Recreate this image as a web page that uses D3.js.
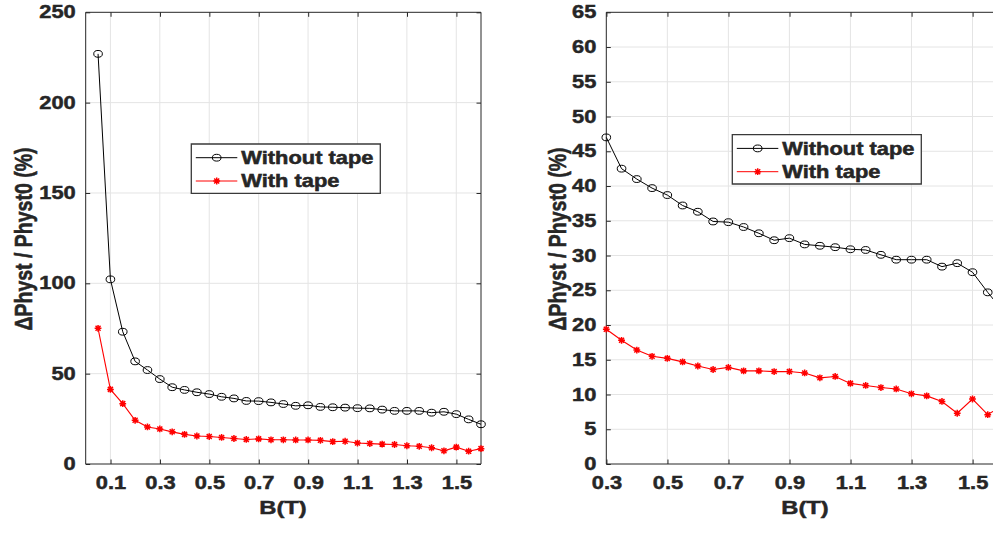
<!DOCTYPE html>
<html><head><meta charset="utf-8">
<script src="https://cdn.jsdelivr.net/npm/d3@7"></script>
<style>
html,body{margin:0;padding:0;background:#fff;}
svg{display:block;}
text{font-family:'Liberation Sans',Arial,Helvetica,sans-serif;font-weight:bold;fill:#262626;}
</style></head>
<body>
<svg id="chart" width="993" height="540"></svg>
<script>
// ---- data ----
const B = [0.05,0.10,0.15,0.20,0.25,0.30,0.35,0.40,0.45,0.50,0.55,0.60,0.65,0.70,0.75,0.80,
           0.85,0.90,0.95,1.00,1.05,1.10,1.15,1.20,1.25,1.30,1.35,1.40,1.45,1.50,1.55,1.60];
const withoutTape = [227,102.2,73.2,56.8,52.0,47.0,42.5,41.0,39.7,38.7,37.2,36.3,34.9,34.8,34.1,33.2,
                     32.2,32.5,31.6,31.4,31.2,30.9,30.8,30.1,29.4,29.4,29.4,28.4,28.9,27.6,24.7,22.0];
const withTape = [75.1,41.3,33.4,24.2,20.5,19.4,17.8,16.4,15.5,15.2,14.7,14.1,13.6,13.9,13.4,13.4,
                  13.3,13.3,13.1,12.4,12.6,11.6,11.3,11.0,10.8,10.1,9.8,9.0,7.3,9.35,7.1,8.5];
const seriesNames = ["Without tape","With tape"];
const leftXTicks = [0.1,0.3,0.5,0.7,0.9,1.1,1.3,1.5];
const leftYTicks = [0,50,100,150,200,250];
const rightXTicks = [0.3,0.5,0.7,0.9,1.1,1.3,1.5];
const rightYTicks = [0,5,10,15,20,25,30,35,40,45,50,55,60,65];
const xLabel = "B(T)";
const yLabel = "\u0394Physt / Physt0 (%)";

// ---- layout ----
const SX = 1.25; // horizontal stretch of the original figure
const svg = d3.select("#chart");
const root = svg.append("g").attr("transform", `scale(${SX},1)`);
const TOP = 12.3, BOT = 464;
const AX = "#262626", GRID = "#e4e4e4";
const TF = 17.5;

const pts = B.map((b,i)=>({b, w: withoutTape[i], t: withTape[i]}));

function asterisk(g, cx, cy){
  const a = 3.4, d = 2.5;
  g.append("path")
    .attr("d", `M${-a/SX},0L${a/SX},0M0,${-a}L0,${a}M${-d/SX},${-d}L${d/SX},${d}M${-d/SX},${d}L${d/SX},${-d}`)
    .attr("transform", `translate(${cx},${cy})`)
    .attr("stroke","#ff0000").attr("stroke-width",1.5).attr("fill","none")
    .attr("vector-effect","non-scaling-stroke");
}
function circ(g, cx, cy){
  g.append("ellipse").attr("cx",cx).attr("cy",cy).attr("rx",4.3/SX).attr("ry",3.4)
    .attr("fill","none").attr("stroke","#000").attr("stroke-width",1)
    .attr("vector-effect","non-scaling-stroke");
}
function heavy(sel, col){
  sel.attr("stroke",col).attr("stroke-width",0.45).attr("paint-order","stroke");
}

function panel(cfg){
  const g = root.append("g");
  const x = d3.scaleLinear().domain(cfg.xDomain).range([cfg.x0/SX, cfg.x1/SX]);
  const y = d3.scaleLinear().domain(cfg.yDomain).range([BOT, TOP]);

  // grid
  g.append("g").selectAll("line").data(cfg.xTicks.filter(v=>v>cfg.xDomain[0]+1e-9 && v<cfg.xDomain[1]-1e-9))
    .join("line").attr("x1",d=>x(d)).attr("x2",d=>x(d)).attr("y1",TOP).attr("y2",BOT)
    .attr("stroke",GRID).attr("stroke-width",1).attr("vector-effect","non-scaling-stroke");
  g.append("g").selectAll("line").data(cfg.yTicks.filter(v=>v>cfg.yDomain[0] && v<cfg.yDomain[1]))
    .join("line").attr("x1",x.range()[0]).attr("x2",x.range()[1]).attr("y1",d=>y(d)).attr("y2",d=>y(d))
    .attr("stroke",GRID).attr("stroke-width",1).attr("vector-effect","non-scaling-stroke");

  // axes
  const styleAxis = sel => {
    sel.select(".domain").remove();
    sel.selectAll(".tick line").attr("stroke",AX).attr("vector-effect","non-scaling-stroke");
    sel.selectAll("text").attr("font-size",TF).attr("fill",AX)
      .style("font-family","'Liberation Sans',Arial,sans-serif").style("font-weight","bold")
      .call(heavy, AX);
  };
  g.append("g").attr("transform",`translate(0,${BOT})`)
    .call(d3.axisBottom(x).tickValues(cfg.xTicks).tickSize(-4.5).tickPadding(13).tickFormat(d3.format(".1f")))
    .call(styleAxis);
  g.append("g").attr("transform",`translate(0,${TOP})`)
    .call(d3.axisTop(x).tickValues(cfg.xTicks).tickSize(-4.5).tickFormat(""))
    .call(styleAxis);
  g.append("g").attr("transform",`translate(${x.range()[0]},0)`)
    .call(d3.axisLeft(y).tickValues(cfg.yTicks).tickSize(-4.5/SX).tickPadding(8).tickFormat(d3.format("d")))
    .call(styleAxis);
  g.append("g").attr("transform",`translate(${x.range()[1]},0)`)
    .call(d3.axisRight(y).tickValues(cfg.yTicks).tickSize(-4.5/SX).tickFormat(""))
    .call(styleAxis);

  // box
  g.append("rect").attr("x",x.range()[0]).attr("y",TOP)
    .attr("width",x.range()[1]-x.range()[0]).attr("height",BOT-TOP)
    .attr("fill","none").attr("stroke",AX).attr("stroke-width",1)
    .attr("vector-effect","non-scaling-stroke");

  // data
  const data = pts.filter(p=>p.b>=cfg.xDomain[0]-1e-9);
  const lineW = d3.line().x(d=>x(d.b)).y(d=>y(d.w));
  const lineT = d3.line().x(d=>x(d.b)).y(d=>y(d.t));
  g.append("path").attr("d",lineW(data)).attr("fill","none").attr("stroke","#000")
    .attr("stroke-width",1).attr("vector-effect","non-scaling-stroke");
  g.append("path").attr("d",lineT(data)).attr("fill","none").attr("stroke","#ff0000")
    .attr("stroke-width",1.1).attr("vector-effect","non-scaling-stroke");
  const mk = g.append("g");
  data.forEach(d=>circ(mk, x(d.b), y(d.w)));
  data.forEach(d=>asterisk(mk, x(d.b), y(d.t)));

  // labels
  g.append("text").attr("x",cfg.xlabX/SX).attr("y",514).attr("text-anchor","middle")
    .attr("font-size",19).text(xLabel).call(heavy, AX);
  g.append("text").attr("transform",`translate(${cfg.ylabX/SX},239) rotate(-90)`)
    .attr("text-anchor","middle").attr("dy","0.36em").attr("font-size",19.5).text(yLabel).call(heavy, AX);

  // legend
  const L = cfg.legend;
  const lg = g.append("g");
  lg.append("rect").attr("x",L.x0/SX).attr("y",L.y0).attr("width",(L.x1-L.x0)/SX).attr("height",L.y1-L.y0)
    .attr("fill","#fff").attr("stroke","#3a3a3a").attr("stroke-width",1.3)
    .attr("vector-effect","non-scaling-stroke");
  const rows = [L.y0+13.7, L.y0+37];
  rows.forEach((ry,i)=>{
    lg.append("line").attr("x1",(L.x0+4.5)/SX).attr("x2",(L.x0+46)/SX).attr("y1",ry).attr("y2",ry)
      .attr("stroke", i===0?"#000":"#ff0000").attr("stroke-width",1).attr("vector-effect","non-scaling-stroke");
    if(i===0) circ(lg,(L.x0+25.4)/SX,ry); else asterisk(lg,(L.x0+25.4)/SX,ry);
    lg.append("text").attr("x",(L.x0+50)/SX).attr("y",ry+6.3).attr("font-size",TF).attr("fill","#000")
      .text(seriesNames[i]).call(heavy, "#000");
  });
}

panel({x0:85.7, x1:481, xDomain:[0,1.6], yDomain:[0,250], xTicks:leftXTicks, yTicks:leftYTicks,
       xlabX:283, ylabX:23, legend:{x0:191.3,x1:380.3,y0:144,y1:193.3}});
panel({x0:606.3, x1:1003, xDomain:[0.3,1.6], yDomain:[0,65], xTicks:rightXTicks, yTicks:rightYTicks,
       xlabX:805, ylabX:557, legend:{x0:732.3,x1:921.3,y0:134.7,y1:184}});
</script>
</body></html>
